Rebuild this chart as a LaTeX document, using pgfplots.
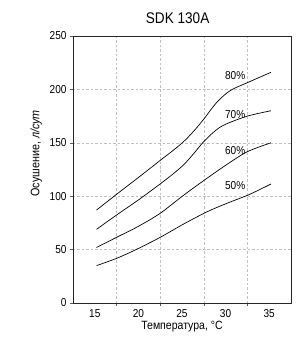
\documentclass[border=0pt]{standalone}
\usepackage{fontspec}
\setmainfont{Liberation Sans}
\newfontfamily\narrowfont[FakeStretch=0.88]{Liberation Sans}
\usepackage{pgfplots}
\pgfplotsset{compat=1.18}
\begin{document}
\begin{tikzpicture}
\useasboundingbox (-73bp,-42bp) rectangle (228bp,303bp);
\begin{axis}[
  at={(0,0)}, anchor=south west,
  scale only axis, width=218bp, height=267bp,
  xmin=12.5, xmax=37.5, ymin=0, ymax=250,
  xtick={15,20,25,30,35},
  minor xtick={17.5,22.5,27.5,32.5},
  ytick={0,50,100,150,200,250},
  major x tick style={draw=none},
  tick align=outside,
  tick style={gray!70!black, line width=0.6pt},
  major tick length=3bp, minor tick length=3bp,
  xtick pos=bottom, ytick pos=left,
  xminorgrids=true, ymajorgrids=true,
  grid style={gray!50, dash pattern=on 2.5pt off 2pt, line width=0.4pt},
  axis line style={gray!30!black, line width=1pt},
  /pgf/number format/assume math mode=true,
  ticklabel style={font=\narrowfont\fontsize{11.5}{13}\selectfont},
  title={\narrowfont\fontsize{15.5}{17}\selectfont SDK 130A},
  title style={at={(rel axis cs:0.48,1)}, anchor=base, yshift=7bp},
  xlabel={\narrowfont\fontsize{12}{14}\selectfont Температура, °C},
  ylabel={\narrowfont\fontsize{12.3}{14}\selectfont Осушение, \textit{л/сут}},
  xlabel style={yshift=3bp},
  ylabel style={at={(ticklabel cs:0.56)}, yshift=1bp},
]
\addplot[black, line width=0.7pt, smooth] coordinates {(15.2,87) (17.5,101.8) (20,117.5) (22.5,133.5) (24,143) (25.17,151) (26.3,160.5) (27.48,172) (29.0,188) (30.55,199) (32.5,206.3) (35.2,216)};
\addplot[black, line width=0.7pt, smooth] coordinates {(15.2,69) (17.5,82.4) (20,96.5) (22.5,111.5) (24,121) (25.2,129.5) (26.3,139.5) (27.48,151) (28.7,160.5) (29.9,167) (32.5,175) (35.2,180)};
\addplot[black, line width=0.7pt, smooth] coordinates {(15.2,52) (17.5,61.5) (20,71.8) (22.5,84) (25.2,101) (27.9,117) (30.2,130) (32.5,141.7) (35.2,150)};
\addplot[black, line width=0.7pt, smooth] coordinates {(15.2,35) (17.5,41.8) (19.8,50.3) (22.5,61.5) (25.2,74) (27.9,85.5) (30.2,93.5) (32.7,101.5) (35.2,111.4)};
\node[font=\narrowfont\fontsize{11.5}{13}\selectfont] at (axis cs:31.1,212.5) {80\%};
\node[font=\narrowfont\fontsize{11.5}{13}\selectfont] at (axis cs:31.1,176) {70\%};
\node[font=\narrowfont\fontsize{11.5}{13}\selectfont] at (axis cs:31.1,143) {60\%};
\node[font=\narrowfont\fontsize{11.5}{13}\selectfont] at (axis cs:31.1,109.5) {50\%};
\end{axis}
\end{tikzpicture}
\end{document}
